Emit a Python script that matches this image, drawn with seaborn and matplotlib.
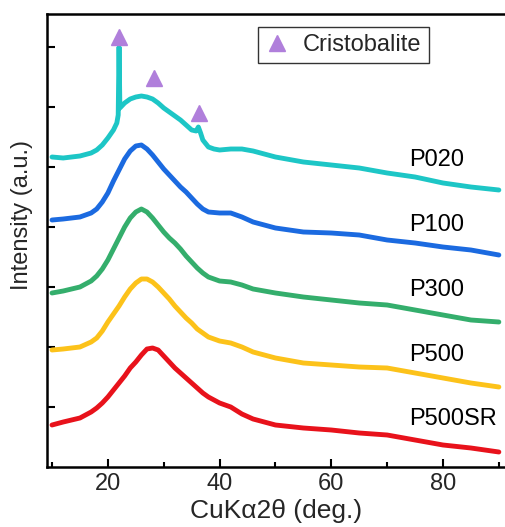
import numpy as np
import pandas as pd
import matplotlib
matplotlib.use("Agg")
import matplotlib.pyplot as plt
import seaborn as sns

# Data (offset intensity, a.u.)
two_theta_p020 = [10, 12, 15, 17, 18, 19, 20, 21, 21.6, 21.85, 22.0, 22.15, 23, 24, 25, 26, 27, 28, 29, 30,
                  31, 32, 33, 34, 35, 35.8, 36.2, 36.6, 37, 38, 39, 40, 42, 44, 46, 48, 50, 55, 60, 65,
                  70, 75, 80, 85, 90]
p020 = [310, 309, 311, 314, 317, 322, 329, 337, 344, 352, 420, 359, 364, 368, 370, 371, 370, 368, 364, 359,
        355, 351, 347, 342, 337, 336, 340, 334, 327, 320, 318, 317, 318, 318, 316, 313, 310, 305, 302, 299,
        294, 290, 284, 280, 277]

two_theta = [10, 12, 15, 17, 18, 19, 20, 21, 22, 23, 24, 25, 26, 27, 28, 29, 30, 31, 32, 33, 34, 35, 36, 37,
             38, 40, 42, 44, 46, 48, 50, 55, 60, 65, 70, 75, 80, 85, 90]
p100 = [247, 248, 250, 254, 258, 265, 274, 286, 297, 308, 316, 321, 322, 318, 312, 305, 298, 292, 286, 280,
        275, 269, 263, 258, 255, 254, 254, 250, 245, 242, 239, 235, 234, 232, 227, 224, 220, 217, 212]
p300 = [174, 176, 180, 186, 191, 198, 207, 218, 229, 240, 249, 255, 258, 255, 249, 242, 235, 229, 224, 218,
        211, 205, 199, 194, 190, 186, 185, 182, 178, 176, 174, 170, 167, 164, 162, 157, 152, 147, 145]
p500 = [117, 118, 120, 125, 129, 136, 145, 153, 161, 170, 178, 184, 188, 188, 185, 180, 174, 168, 161, 155,
        149, 144, 138, 134, 130, 126, 124, 120, 115, 112, 109, 104, 102, 100, 99, 94, 89, 84, 80]
p500sr = [42, 45, 49, 55, 59, 64, 70, 77, 84, 91, 99, 105, 112, 118, 119, 117, 111, 105, 99, 94,
          89, 84, 79, 74, 70, 64, 60, 53, 48, 45, 42, 39, 37, 34, 32, 27, 22, 19, 15]

sample_names = ["P020", "P100", "P300", "P500", "P500SR"]
sample_colors = ["#1dc6c6", "#1b6ae0", "#34ae6c", "#fcc21a", "#e8121b"]
label_y = [307, 242, 177, 112, 48]

peak_x = [22.0, 28.2, 36.4]
peak_y = [430, 389, 354]

frames = [pd.DataFrame({"two_theta": two_theta_p020, "intensity": p020, "sample": "P020"})]
for name, vals in zip(sample_names[1:], [p100, p300, p500, p500sr]):
    frames.append(pd.DataFrame({"two_theta": two_theta, "intensity": vals, "sample": name}))
df = pd.concat(frames, ignore_index=True)

sns.set_style("ticks")
plt.rcParams["font.family"] = ["Liberation Sans", "DejaVu Sans"]
plt.rcParams["font.size"] = 17

fig = plt.figure(figsize=(5.05, 5.27), dpi=100)
ax = fig.add_axes([47 / 505, (527 - 467) / 527, 1 - 47 / 505, (467 - 14) / 527])

sns.lineplot(data=df, x="two_theta", y="intensity", hue="sample", palette=sample_colors,
             hue_order=sample_names, sort=False, estimator=None, lw=3.5, legend=False, ax=ax)

ax.plot(peak_x, peak_y, ls="none", marker="^", ms=12, color="#b07fdb", label="Cristobalite")
leg = ax.legend(loc="upper left", bbox_to_anchor=(0.461, 0.971), fontsize=17, frameon=True,
                fancybox=False, handlelength=1.0, handletextpad=0.6, borderpad=0.3, borderaxespad=0)
leg.get_frame().set_edgecolor("black")
leg.get_frame().set_linewidth(1.0)

for name, y in zip(sample_names, label_y):
    ax.text(74, y, name, ha="left", va="center", fontsize=17, color="black")

ax.set_xlim(9.1, 91.1)
ax.set_ylim(0, 453)
ax.set_xticks([20, 40, 60, 80])
ax.set_xticks([10, 30, 50, 70, 90], minor=True)
ax.set_yticks([60, 120, 180, 240, 300, 360, 420])
ax.set_yticklabels([])
ax.tick_params(axis="both", which="major", direction="in", length=6, width=1.5, labelsize=17,
               color="black", pad=4)
ax.tick_params(axis="x", which="minor", direction="in", length=3.5, width=1.5, color="black")
ax.spines["right"].set_visible(False)
for s in ["left", "top", "bottom"]:
    ax.spines[s].set_linewidth(1.8)
    ax.spines[s].set_color("black")

ax.set_xlabel("CuKα2θ (deg.)", fontsize=19, labelpad=3)
ax.set_ylabel("Intensity (a.u.)", fontsize=17)
ax.yaxis.set_label_coords(-0.03, 0.556)

fig.savefig("out.png", dpi=100)
